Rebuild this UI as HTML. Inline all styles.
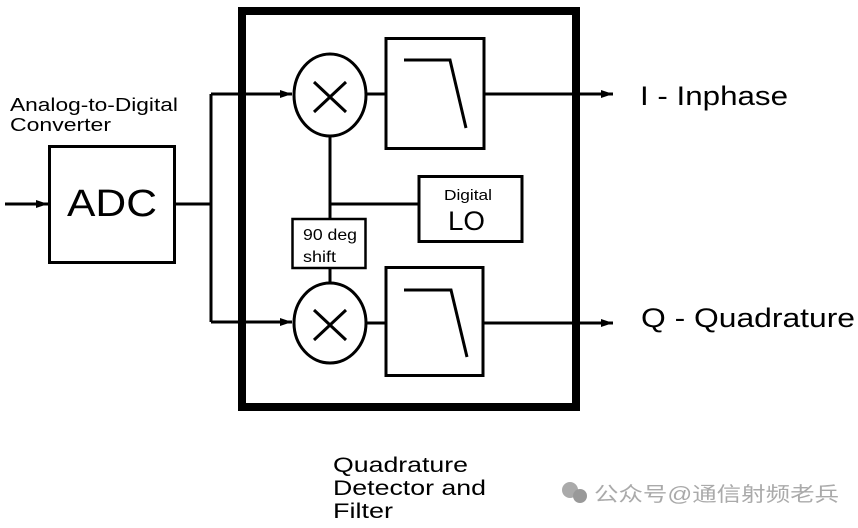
<!DOCTYPE html>
<html><head><meta charset="utf-8"><style>
html,body{margin:0;padding:0;background:#fff;}
svg{display:block;}
text{font-family:"Liberation Sans","Noto Sans CJK SC",sans-serif;fill:#000;}
</style></head><body>
<svg width="858" height="528" viewBox="0 0 858 528" xmlns="http://www.w3.org/2000/svg">
<defs><marker id="a" markerWidth="12" markerHeight="8" refX="12" refY="4" orient="auto" markerUnits="userSpaceOnUse"><path d="M0,0 L12,4 L0,8 Z" fill="#000"/></marker></defs>
<g stroke="#000" fill="none" stroke-width="3">
<rect x="242" y="11" width="334" height="396" stroke-width="8"/>
<line x1="5" y1="204" x2="48" y2="204" marker-end="url(#a)"/>
<rect x="49.5" y="146.5" width="125" height="116"/>
<polyline points="175,204 211,204"/>
<polyline points="211,94 211,322"/>
<line x1="211" y1="94" x2="292" y2="94" marker-end="url(#a)"/>
<line x1="211" y1="322" x2="292" y2="322" marker-end="url(#a)"/>
<ellipse cx="330" cy="95" rx="36" ry="41"/>
<ellipse cx="330" cy="323" rx="36" ry="40"/>
<path d="M314,82 L346,112 M346,82 L314,112" stroke-width="3"/>
<path d="M314,310 L346,340 M346,310 L314,340" stroke-width="3"/>
<line x1="366" y1="94" x2="386" y2="94"/>
<line x1="366" y1="323" x2="386" y2="323"/>
<rect x="386" y="38.5" width="98" height="110"/>
<rect x="386" y="267.5" width="97" height="108"/>
<path d="M404,60 L450,60 L466,128"/>
<path d="M404,290 L451,290 L467,357"/>
<line x1="484" y1="94" x2="613" y2="94" marker-end="url(#a)"/>
<line x1="483" y1="323" x2="613" y2="323" marker-end="url(#a)"/>
<line x1="330" y1="136" x2="330" y2="218"/>
<line x1="330" y1="204" x2="418" y2="204"/>
<rect x="419" y="176.5" width="103" height="65"/>
<rect x="292.5" y="219" width="73" height="49" stroke-width="2.5"/>
<line x1="330" y1="268" x2="330" y2="283"/>
</g>
<text x="10" y="111" font-size="18" textLength="168" lengthAdjust="spacingAndGlyphs">Analog-to-Digital</text>
<text x="10" y="131" font-size="18" textLength="101" lengthAdjust="spacingAndGlyphs">Converter</text>
<text x="67" y="216" font-size="38" textLength="90" lengthAdjust="spacingAndGlyphs">ADC</text>
<text x="444" y="200" font-size="15" textLength="48" lengthAdjust="spacingAndGlyphs">Digital</text>
<text x="448" y="230" font-size="27" textLength="37" lengthAdjust="spacingAndGlyphs">LO</text>
<text x="303" y="240" font-size="16" textLength="54" lengthAdjust="spacingAndGlyphs">90 deg</text>
<text x="303" y="262" font-size="16" textLength="33" lengthAdjust="spacingAndGlyphs">shift</text>
<text x="640" y="105" font-size="27" textLength="148" lengthAdjust="spacingAndGlyphs">I - Inphase</text>
<text x="641" y="327" font-size="27" textLength="214" lengthAdjust="spacingAndGlyphs">Q - Quadrature</text>
<text x="333" y="472" font-size="21" textLength="135" lengthAdjust="spacingAndGlyphs">Quadrature</text>
<text x="333" y="495" font-size="21" textLength="153" lengthAdjust="spacingAndGlyphs">Detector and</text>
<text x="333" y="518" font-size="21" textLength="60" lengthAdjust="spacingAndGlyphs">Filter</text>
<circle cx="570" cy="490" r="8" fill="#aaa"/><circle cx="580" cy="496" r="7" fill="#999"/>
<text x="594" y="501" font-size="20" textLength="245" lengthAdjust="spacingAndGlyphs" style="fill:#aaa">公众号@通信射频老兵</text>
</svg>
</body></html>
